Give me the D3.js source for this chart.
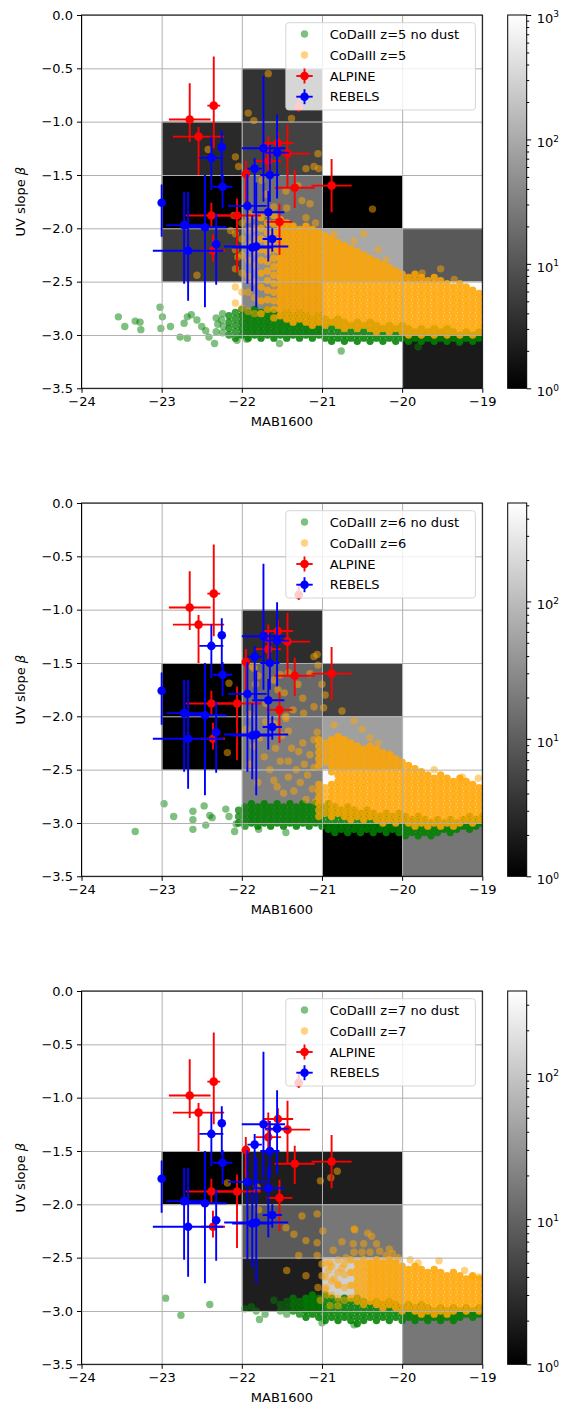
<!DOCTYPE html>
<html>
<head>
<meta charset="utf-8">
<script src="https://cdn.jsdelivr.net/npm/d3@7/dist/d3.min.js"></script>
<style>
  body { margin: 0; background: #fff; }
  svg { display: block; font-family: "DejaVu Sans", sans-serif; }
</style>
</head>
<body>
<div id="chart"></div>
<script>
// ---- values ----

var xTicks = [-24, -23, -22, -21, -20, -19];
var yTicks = [0, -0.5, -1, -1.5, -2, -2.5, -3, -3.5];
var redshifts = [5, 6, 7];
var cbarMax = [1000, 520, 373];

// 2d histogram cells: [lower x edge, lower beta edge, count]
var histZ5 = [[-23, -1.5, 3], [-23, -2.0, 1], [-23, -2.5, 5],
  [-22, -1.0, 4], [-22, -1.5, 6], [-22, -2.0, 21], [-22, -2.5, 49], [-22, -3.0, 40],
  [-21, -2.0, 1], [-21, -2.5, 95], [-21, -3.0, 800],
  [-20, -2.5, 11], [-20, -3.0, 1000], [-20, -3.5, 2]];
var histZ6 = [[-23, -2.0, 1], [-23, -2.5, 1],
  [-22, -1.5, 3], [-22, -2.0, 13], [-22, -2.5, 22], [-22, -3.0, 23],
  [-21, -2.0, 5], [-21, -2.5, 50], [-21, -3.0, 450], [-21, -3.5, 1],
  [-20, -3.0, 520], [-20, -3.5, 18]];
var histZ7 = [[-23, -2.0, 1],
  [-22, -2.0, 2], [-21, -2.0, 2],
  [-22, -2.5, 8], [-21, -2.5, 16],
  [-22, -3.0, 2], [-21, -3.0, 125],
  [-20, -3.0, 373], [-20, -3.5, 16]];

// observations: [MUV, beta, xerr, beta err up, beta err down]
var alpine = [[-22.65, -0.98, 0.26, 0.34, 0.21], [-22.35, -0.85, 0.08, 0.46, 0.40],
  [-22.54, -1.14, 0.32, 0.09, 0.36], [-21.95, -1.49, 0.05, 0.12, 0.30],
  [-21.67, -1.37, 0.16, 0.23, 0.15], [-21.55, -1.20, 0.19, 0.10, 0.12],
  [-21.43, -1.30, 0.28, 0.27, 0.32], [-21.34, -1.62, 0.25, 0.17, 0.19],
  [-20.88, -1.60, 0.25, 0.25, 0.25], [-22.38, -1.88, 0.32, 0.12, 0.12],
  [-22.06, -1.88, 0.30, 0.16, 0.53], [-21.53, -1.94, 0.16, 0.17, 0.31],
  [-22.36, -2.21, 0.15, 0.15, 0.10], [-21.29, -0.86, 0.05, 0.10, 0.05]];
var rebels = [[-23.00, -1.76, 0.02, 0.17, 0.32], [-22.25, -1.24, 0.03, 0.16, 0.30],
  [-22.38, -1.34, 0.15, 0.20, 0.30], [-22.24, -1.61, 0.12, 0.12, 0.20],
  [-21.84, -1.44, 0.09, 0.10, 0.40], [-21.73, -1.25, 0.27, 0.68, 0.50],
  [-21.56, -1.29, 0.15, 0.36, 0.43], [-21.65, -1.50, 0.12, 0.28, 0.25],
  [-21.93, -1.79, 0.24, 0.30, 0.73], [-21.67, -1.85, 0.20, 0.20, 0.46],
  [-22.72, -1.97, 0.22, 0.31, 0.55], [-22.46, -1.99, 0.27, 0.49, 0.75],
  [-22.32, -2.15, 0.05, 0.29, 0.38], [-22.67, -2.21, 0.44, 0.55, 0.47],
  [-21.87, -2.18, 0.25, 0.30, 0.41], [-21.82, -2.17, 0.40, 0.60, 0.57],
  [-21.62, -2.10, 0.12, 0.10, 0.12]];

// CoDaIII galaxies. Sparse points are single galaxies; dense columns are
// [MUV, [beta...], n] where n galaxies pile up on each marker position.

// z=5
var greenZ5Sparse = [[-23.54, -2.83], [-23.46, -2.92], [-23.33, -2.87], [-23.27, -2.88], [-23.26, -2.95],
  [-23.02, -2.74], [-22.99, -2.83], [-23.01, -2.94], [-22.89, -2.92], [-22.77, -3.02], [-22.68, -3.03],
  [-22.72, -2.89], [-22.68, -2.83], [-22.63, -2.81], [-22.56, -2.86], [-22.5, -2.92], [-22.45, -2.96],
  [-22.41, -3.02], [-22.34, -3.08], [-22.06, -3.05], [-21.94, -3.04], [-21.53, -3.08], [-20.76, -3.15],
  [-19.8, -3.11], [-19.29, -3.07], [-22.32, -2.84], [-22.3, -2.9], [-22.32, -2.97], [-22.24, -2.8],
  [-22.25, -2.86], [-22.23, -2.92], [-22.24, -2.98]];
var greenZ5Cols = [
  [-22.16, [-2.82, -2.88, -2.94, -3.0], 2], [-22.08, [-2.79, -2.85, -2.91, -2.97, -3.03], 2],
  [-22.0, [-2.76, -2.82, -2.88, -2.94, -3.0], 3], [-21.92, [-2.79, -2.85, -2.91, -2.97, -3.03], 3],
  [-21.84, [-2.76, -2.82, -2.88, -2.94, -3.0], 3], [-21.76, [-2.79, -2.85, -2.91, -2.97, -3.03], 3],
  [-21.68, [-2.76, -2.82, -2.88, -2.94, -3.0], 3], [-21.6, [-2.79, -2.85, -2.91, -2.97, -3.03], 3],
  [-21.52, [-2.82, -2.88, -2.94, -3.0], 3], [-21.44, [-2.79, -2.85, -2.91, -2.97, -3.03], 3],
  [-21.36, [-2.82, -2.88, -2.94, -3.0], 3], [-21.28, [-2.79, -2.85, -2.91, -2.97, -3.03], 3],
  [-21.2, [-2.82, -2.88, -2.94, -3.0], 3], [-21.12, [-2.85, -2.91, -2.97, -3.03], 3],
  [-21.04, [-2.82, -2.88, -2.94, -3.0], 3], [-20.96, [-2.85, -2.91, -2.97, -3.03], 3],
  [-20.88, [-2.88, -2.94, -3.0, -3.06], 3], [-20.8, [-2.85, -2.91, -2.97, -3.03], 3],
  [-20.72, [-2.88, -2.94, -3.0, -3.06], 3], [-20.64, [-2.91, -2.97, -3.03], 3],
  [-20.56, [-2.88, -2.94, -3.0, -3.06], 3], [-20.48, [-2.91, -2.97, -3.03], 3],
  [-20.4, [-2.88, -2.94, -3.0, -3.06], 3], [-20.32, [-2.91, -2.97, -3.03], 3],
  [-20.24, [-2.94, -3.0, -3.06], 3], [-20.16, [-2.91, -2.97, -3.03], 3],
  [-20.08, [-2.94, -3.0, -3.06], 3], [-20.0, [-2.91, -2.97, -3.03], 3],
  [-19.92, [-2.94, -3.0, -3.06], 3], [-19.84, [-2.97, -3.03], 3],
  [-19.76, [-2.94, -3.0, -3.06], 3], [-19.68, [-2.97, -3.03], 3],
  [-19.6, [-2.94, -3.0, -3.06], 3], [-19.52, [-2.97, -3.03], 3],
  [-19.44, [-2.94, -3.0, -3.06], 3], [-19.36, [-2.97, -3.03], 3],
  [-19.28, [-3.0, -3.06], 3], [-19.2, [-2.97, -3.03], 3],
  [-19.12, [-3.0, -3.06], 3], [-19.04, [-2.97, -3.03], 3]];
var orangeZ5Sparse = [[-22.42, -1.26], [-22.08, -1.33], [-22.04, -1.42], [-21.92, -0.92], [-21.85, -0.99],
  [-21.67, -0.55], [-21.38, -0.97], [-21.2, -1.44], [-21.1, -1.42], [-21.04, -1.44], [-21.05, -1.3],
  [-21.44, -1.81], [-21.15, -1.77], [-20.37, -1.82], [-22.56, -2.44], [-22.14, -2.02], [-22.1, -1.88],
  [-22.05, -2.27], [-21.75, -1.55], [-21.7, -1.68], [-21.45, -1.65], [-21.3, -1.6], [-21.25, -1.74],
  [-21.6, -1.8], [-21.9, -1.87], [-21.2, -1.9], [-21.08, -1.95], [-20.85, -2.05], [-20.6, -2.12],
  [-20.48, -2.05], [-20.3, -2.2], [-19.52, -2.38], [-19.75, -2.42], [-19.35, -2.48], [-20.2, -2.3]];
var orangeZ5Cols = [
  [-22.08, [-2.05, -2.2, -2.38, -2.55, -2.7], 1],
  [-22.0, [-1.95, -2.1, -2.25, -2.42, -2.6, -2.75], 1],
  [-21.92, [-1.92, -2.02, -2.15, -2.3, -2.45, -2.6, -2.78], 1],
  [-21.84, [-1.88, -2.0, -2.1, -2.22, -2.35, -2.5, -2.65, -2.8], 1],
  [-21.76, [-1.9, -2.0, -2.1, -2.2, -2.3, -2.42, -2.55, -2.68, -2.8], 2],
  [-21.68, [-1.86, -1.95, -2.04, -2.13, -2.22, -2.31, -2.4, -2.49, -2.58, -2.67, -2.76], 2],
  [-21.6, [-1.88, -1.96, -2.04, -2.12, -2.2, -2.28, -2.36, -2.44, -2.52, -2.6, -2.68, -2.76, -2.84], 2],
  [-21.52, [-1.92, -1.98, -2.04, -2.1, -2.16, -2.22, -2.28, -2.34, -2.4, -2.46, -2.52, -2.58, -2.64, -2.7, -2.76, -2.82], 3],
  [-21.44, [-1.95, -2.01, -2.07, -2.13, -2.19, -2.25, -2.31, -2.37, -2.43, -2.49, -2.55, -2.61, -2.67, -2.73, -2.79, -2.85], 3],
  [-21.36, [-1.98, -2.04, -2.1, -2.16, -2.22, -2.28, -2.34, -2.4, -2.46, -2.52, -2.58, -2.64, -2.7, -2.76, -2.82, -2.88], 3],
  [-21.28, [-2.01, -2.07, -2.13, -2.19, -2.25, -2.31, -2.37, -2.43, -2.49, -2.55, -2.61, -2.67, -2.73, -2.79, -2.85], 3],
  [-21.2, [-1.98, -2.04, -2.1, -2.16, -2.22, -2.28, -2.34, -2.4, -2.46, -2.52, -2.58, -2.64, -2.7, -2.76, -2.82, -2.88], 3],
  [-21.12, [-2.01, -2.07, -2.13, -2.19, -2.25, -2.31, -2.37, -2.43, -2.49, -2.55, -2.61, -2.67, -2.73, -2.79, -2.85, -2.91], 3],
  [-21.04, [-2.04, -2.1, -2.16, -2.22, -2.28, -2.34, -2.4, -2.46, -2.52, -2.58, -2.64, -2.7, -2.76, -2.82, -2.88], 3],
  [-20.96, [-2.07, -2.13, -2.19, -2.25, -2.31, -2.37, -2.43, -2.49, -2.55, -2.61, -2.67, -2.73, -2.79, -2.85, -2.91], 3],
  [-20.88, [-2.1, -2.16, -2.22, -2.28, -2.34, -2.4, -2.46, -2.52, -2.58, -2.64, -2.7, -2.76, -2.82, -2.88], 3],
  [-20.8, [-2.13, -2.19, -2.25, -2.31, -2.37, -2.43, -2.49, -2.55, -2.61, -2.67, -2.73, -2.79, -2.85, -2.91], 3],
  [-20.72, [-2.16, -2.22, -2.28, -2.34, -2.4, -2.46, -2.52, -2.58, -2.64, -2.7, -2.76, -2.82, -2.88, -2.94], 3],
  [-20.64, [-2.19, -2.25, -2.31, -2.37, -2.43, -2.49, -2.55, -2.61, -2.67, -2.73, -2.79, -2.85, -2.91], 3],
  [-20.56, [-2.22, -2.28, -2.34, -2.4, -2.46, -2.52, -2.58, -2.64, -2.7, -2.76, -2.82, -2.88, -2.94], 3],
  [-20.48, [-2.25, -2.31, -2.37, -2.43, -2.49, -2.55, -2.61, -2.67, -2.73, -2.79, -2.85, -2.91], 3],
  [-20.4, [-2.28, -2.34, -2.4, -2.46, -2.52, -2.58, -2.64, -2.7, -2.76, -2.82, -2.88, -2.94], 3],
  [-20.32, [-2.31, -2.37, -2.43, -2.49, -2.55, -2.61, -2.67, -2.73, -2.79, -2.85, -2.91, -2.97], 3],
  [-20.24, [-2.34, -2.4, -2.46, -2.52, -2.58, -2.64, -2.7, -2.76, -2.82, -2.88, -2.94], 3],
  [-20.16, [-2.37, -2.43, -2.49, -2.55, -2.61, -2.67, -2.73, -2.79, -2.85, -2.91, -2.97], 3],
  [-20.08, [-2.4, -2.46, -2.52, -2.58, -2.64, -2.7, -2.76, -2.82, -2.88, -2.94], 3],
  [-20.0, [-2.43, -2.49, -2.55, -2.61, -2.67, -2.73, -2.79, -2.85, -2.91, -2.97], 3],
  [-19.92, [-2.46, -2.52, -2.58, -2.64, -2.7, -2.76, -2.82, -2.88, -2.94, -3.0], 3],
  [-19.84, [-2.43, -2.49, -2.55, -2.61, -2.67, -2.73, -2.79, -2.85, -2.91, -2.97], 3],
  [-19.76, [-2.46, -2.52, -2.58, -2.64, -2.7, -2.76, -2.82, -2.88, -2.94, -3.0], 3],
  [-19.68, [-2.49, -2.55, -2.61, -2.67, -2.73, -2.79, -2.85, -2.91, -2.97], 3],
  [-19.6, [-2.46, -2.52, -2.58, -2.64, -2.7, -2.76, -2.82, -2.88, -2.94, -3.0], 3],
  [-19.52, [-2.49, -2.55, -2.61, -2.67, -2.73, -2.79, -2.85, -2.91, -2.97], 3],
  [-19.44, [-2.52, -2.58, -2.64, -2.7, -2.76, -2.82, -2.88, -2.94, -3.0], 3],
  [-19.36, [-2.55, -2.61, -2.67, -2.73, -2.79, -2.85, -2.91, -2.97], 3],
  [-19.28, [-2.52, -2.58, -2.64, -2.7, -2.76, -2.82, -2.88, -2.94, -3.0], 3],
  [-19.2, [-2.55, -2.61, -2.67, -2.73, -2.79, -2.85, -2.91, -2.97], 3],
  [-19.12, [-2.58, -2.64, -2.7, -2.76, -2.82, -2.88, -2.94, -3.0], 3],
  [-19.04, [-2.61, -2.67, -2.73, -2.79, -2.85, -2.91, -2.97], 3]];

// z=6
var greenZ6Sparse = [[-23.33, -3.08], [-22.97, -2.82], [-22.85, -2.94], [-22.61, -2.89], [-22.61, -2.97],
  [-22.61, -3.06], [-22.47, -2.84], [-22.45, -3.02], [-22.4, -2.93], [-22.37, -2.95], [-22.2, -2.87],
  [-22.16, -2.94], [-22.09, -3.08], [-22.07, -3.01], [-21.79, -3.06], [-21.45, -3.09]];
var greenZ6Cols = [
  [-22.04, [-2.88, -2.94, -3.0], 2], [-21.96, [-2.85, -2.91, -2.97, -3.03], 2],
  [-21.88, [-2.82, -2.88, -2.94, -3.0], 3], [-21.8, [-2.85, -2.91, -2.97, -3.03], 3],
  [-21.72, [-2.82, -2.88, -2.94, -3.0], 3], [-21.64, [-2.85, -2.91, -2.97, -3.03], 3],
  [-21.56, [-2.82, -2.88, -2.94, -3.0], 3], [-21.48, [-2.85, -2.91, -2.97, -3.03], 3],
  [-21.4, [-2.82, -2.88, -2.94, -3.0], 3], [-21.32, [-2.85, -2.91, -2.97, -3.03], 3],
  [-21.24, [-2.82, -2.88, -2.94, -3.0], 3], [-21.16, [-2.85, -2.91, -2.97, -3.03], 3],
  [-21.08, [-2.82, -2.88, -2.94, -3.0], 3], [-21.0, [-2.85, -2.91, -2.97, -3.03], 3],
  [-20.92, [-2.82, -2.88, -2.94, -3.0, -3.06], 3], [-20.84, [-2.85, -2.91, -2.97, -3.03, -3.09], 3],
  [-20.76, [-2.88, -2.94, -3.0, -3.06], 3], [-20.68, [-2.85, -2.91, -2.97, -3.03, -3.09], 3],
  [-20.6, [-2.88, -2.94, -3.0, -3.06], 3], [-20.52, [-2.91, -2.97, -3.03, -3.09], 3],
  [-20.44, [-2.88, -2.94, -3.0, -3.06], 3], [-20.36, [-2.91, -2.97, -3.03, -3.09], 3],
  [-20.28, [-2.94, -3.0, -3.06], 3], [-20.2, [-2.91, -2.97, -3.03, -3.09], 3],
  [-20.12, [-2.94, -3.0, -3.06], 3], [-20.04, [-2.91, -2.97, -3.03, -3.09], 3],
  [-19.96, [-2.94, -3.0, -3.06, -3.12], 3], [-19.88, [-2.97, -3.03, -3.09], 3],
  [-19.8, [-2.94, -3.0, -3.06, -3.12], 3], [-19.72, [-2.97, -3.03, -3.09], 3],
  [-19.64, [-3.0, -3.06, -3.12], 3], [-19.56, [-2.97, -3.03, -3.09], 3],
  [-19.48, [-3.0, -3.06], 3], [-19.4, [-2.97, -3.03, -3.09], 3],
  [-19.32, [-3.0, -3.06], 3], [-19.24, [-2.97, -3.03], 3],
  [-19.16, [-2.94, -3.0, -3.06], 3], [-19.08, [-2.97, -3.03], 3],
  [-19.0, [-2.94, -3.0], 3]];
var orangeZ6Sparse = [[-21.06, -1.42], [-21.0, -1.7], [-20.96, -1.8], [-21.24, -1.83], [-20.98, -1.92],
  [-20.75, -1.95], [-20.6, -2.04], [-20.85, -2.08], [-20.5, -2.12], [-20.4, -2.2], [-21.87, -1.53],
  [-22.16, -1.69], [-22.18, -2.34], [-21.8, -1.62], [-21.55, -1.75], [-21.47, -1.78], [-21.3, -1.7],
  [-21.15, -1.6], [-20.3, -2.25], [-20.15, -2.35], [-19.6, -2.5], [-19.25, -2.57], [-19.05, -2.58],
  [-21.7, -1.88], [-21.9, -1.98], [-21.85, -1.55], [-21.83, -1.7], [-21.6, -1.66], [-21.52, -1.61],
  [-21.42, -1.59], [-21.1, -1.44], [-21.05, -1.52],
  [-21.95, -2.12], [-21.9, -2.45], [-21.85, -2.28], [-21.8, -2.62], [-21.78, -2.2], [-21.72, -2.38],
  [-21.7, -2.05], [-21.65, -2.5], [-21.6, -2.07], [-21.6, -2.6], [-21.58, -2.3], [-21.56, -2.66],
  [-21.52, -2.42], [-21.5, -2.18], [-21.48, -2.72], [-21.45, -2.02], [-21.42, -2.14], [-21.42, -2.42],
  [-21.42, -2.57], [-21.38, -2.3], [-21.35, -2.7], [-21.32, -2.5], [-21.29, -2.33], [-21.27, -2.62],
  [-21.24, -2.25], [-21.22, -2.45], [-21.2, -2.78], [-21.18, -2.55], [-21.15, -2.36], [-21.12, -2.68],
  [-21.1, -2.22], [-21.1, -2.48], [-21.08, -2.8], [-21.06, -2.15], [-21.36, -1.94], [-21.23, -1.97],
  [-21.1, -1.91], [-21.45, -2.0]];
var orangeZ6Cols = [
  [-21.04, [-2.22, -2.28, -2.34, -2.4, -2.46, -2.64, -2.7, -2.76, -2.82, -2.88, -2.94], 2],
  [-20.96, [-2.25, -2.31, -2.37, -2.43, -2.67, -2.73, -2.79, -2.85, -2.91], 2],
  [-20.88, [-2.22, -2.28, -2.34, -2.4, -2.46, -2.52, -2.64, -2.7, -2.76, -2.82, -2.88, -2.94], 3],
  [-20.8, [-2.19, -2.25, -2.31, -2.37, -2.43, -2.49, -2.55, -2.61, -2.67, -2.73, -2.79, -2.85, -2.91], 3],
  [-20.72, [-2.22, -2.28, -2.34, -2.4, -2.46, -2.52, -2.58, -2.64, -2.7, -2.76, -2.82, -2.88, -2.94], 3],
  [-20.64, [-2.25, -2.31, -2.37, -2.43, -2.49, -2.55, -2.61, -2.67, -2.73, -2.79, -2.85, -2.91, -2.97], 3],
  [-20.56, [-2.28, -2.34, -2.4, -2.46, -2.52, -2.58, -2.64, -2.7, -2.76, -2.82, -2.88, -2.94], 3],
  [-20.48, [-2.31, -2.37, -2.43, -2.49, -2.55, -2.61, -2.67, -2.73, -2.79, -2.85, -2.91, -2.97], 3],
  [-20.4, [-2.28, -2.34, -2.4, -2.46, -2.52, -2.58, -2.64, -2.7, -2.76, -2.82, -2.88, -2.94], 3],
  [-20.32, [-2.31, -2.37, -2.43, -2.49, -2.55, -2.61, -2.67, -2.73, -2.79, -2.85, -2.91, -2.97], 3],
  [-20.24, [-2.34, -2.4, -2.46, -2.52, -2.58, -2.64, -2.7, -2.76, -2.82, -2.88, -2.94, -3.0], 3],
  [-20.16, [-2.37, -2.43, -2.49, -2.55, -2.61, -2.67, -2.73, -2.79, -2.85, -2.91, -2.97], 3],
  [-20.08, [-2.4, -2.46, -2.52, -2.58, -2.64, -2.7, -2.76, -2.82, -2.88, -2.94, -3.0], 3],
  [-20.0, [-2.43, -2.49, -2.55, -2.61, -2.67, -2.73, -2.79, -2.85, -2.91, -2.97], 3],
  [-19.92, [-2.46, -2.52, -2.58, -2.64, -2.7, -2.76, -2.82, -2.88, -2.94, -3.0], 3],
  [-19.84, [-2.49, -2.55, -2.61, -2.67, -2.73, -2.79, -2.85, -2.91, -2.97, -3.03], 3],
  [-19.76, [-2.52, -2.58, -2.64, -2.7, -2.76, -2.82, -2.88, -2.94, -3.0], 3],
  [-19.68, [-2.55, -2.61, -2.67, -2.73, -2.79, -2.85, -2.91, -2.97, -3.03], 3],
  [-19.6, [-2.58, -2.64, -2.7, -2.76, -2.82, -2.88, -2.94, -3.0], 3],
  [-19.52, [-2.55, -2.61, -2.67, -2.73, -2.79, -2.85, -2.91, -2.97, -3.03], 3],
  [-19.44, [-2.58, -2.64, -2.7, -2.76, -2.82, -2.88, -2.94, -3.0], 3],
  [-19.36, [-2.61, -2.67, -2.73, -2.79, -2.85, -2.91, -2.97, -3.03], 3],
  [-19.28, [-2.58, -2.64, -2.7, -2.76, -2.82, -2.88, -2.94, -3.0], 3],
  [-19.2, [-2.61, -2.67, -2.73, -2.79, -2.85, -2.91, -2.97], 3],
  [-19.12, [-2.64, -2.7, -2.76, -2.82, -2.88, -2.94, -3.0], 3],
  [-19.04, [-2.67, -2.73, -2.79, -2.85, -2.91, -2.97], 3]];

// z=7
var greenZ7Sparse = [[-22.95, -2.88], [-22.76, -3.04], [-22.4, -2.94], [-21.96, -2.98], [-21.78, -3.08],
  [-21.71, -3.03], [-21.6, -2.9], [-21.0, -3.11], [-20.6, -3.13], [-21.88, -2.96], [-21.82, -3.0]];
var greenZ7Cols = [
  [-21.52, [-2.94, -3.0], 1], [-21.44, [-2.91, -2.97, -3.03], 1],
  [-21.36, [-2.88, -2.94, -3.0], 2], [-21.28, [-2.91, -2.97, -3.03], 2],
  [-21.2, [-2.88, -2.94, -3.0, -3.06], 3], [-21.12, [-2.85, -2.91, -2.97, -3.03], 3],
  [-21.04, [-2.88, -2.94, -3.0, -3.06], 3], [-20.96, [-2.85, -2.91, -2.97, -3.03, -3.09], 3],
  [-20.88, [-2.88, -2.94, -3.0, -3.06], 3], [-20.8, [-2.91, -2.97, -3.03, -3.09], 3],
  [-20.72, [-2.88, -2.94, -3.0, -3.06], 3], [-20.64, [-2.91, -2.97, -3.03, -3.09], 3],
  [-20.56, [-2.88, -2.94, -3.0, -3.06, -3.12], 3], [-20.48, [-2.91, -2.97, -3.03, -3.09], 3],
  [-20.4, [-2.94, -3.0, -3.06], 3], [-20.32, [-2.91, -2.97, -3.03, -3.09], 3],
  [-20.24, [-2.94, -3.0, -3.06], 3], [-20.16, [-2.91, -2.97, -3.03, -3.09], 3],
  [-20.08, [-2.94, -3.0, -3.06], 3], [-20.0, [-2.97, -3.03, -3.09], 3],
  [-19.92, [-2.94, -3.0, -3.06], 3], [-19.84, [-2.97, -3.03, -3.09], 3],
  [-19.76, [-2.94, -3.0, -3.06], 3], [-19.68, [-2.97, -3.03, -3.09], 3],
  [-19.6, [-3.0, -3.06], 3], [-19.52, [-2.97, -3.03, -3.09], 3],
  [-19.44, [-3.0, -3.06], 3], [-19.36, [-2.97, -3.03, -3.09], 3],
  [-19.28, [-3.0, -3.06], 3], [-19.2, [-2.97, -3.03], 3],
  [-19.12, [-3.0, -3.06], 3], [-19.04, [-2.97, -3.03], 3]];
var orangeZ7Sparse = [[-22.18, -1.8], [-21.81, -1.84], [-21.02, -1.78], [-20.89, -1.75], [-20.81, -1.69],
  [-21.79, -2.05], [-21.45, -2.22], [-21.35, -2.28], [-21.25, -2.11], [-21.2, -2.34], [-21.06, -2.09],
  [-20.99, -2.25], [-21.06, -2.36], [-20.75, -2.35], [-20.6, -2.23], [-21.29, -2.48], [-21.44, -2.62],
  [-21.2, -2.67], [-21.06, -2.48], [-21.0, -2.67], [-20.86, -2.43], [-20.61, -2.37], [-20.59, -2.24],
  [-20.48, -2.37], [-20.43, -2.27], [-20.38, -2.3], [-20.32, -2.37], [-20.16, -2.42], [-20.12, -2.46],
  [-19.54, -2.53], [-19.22, -2.62], [-19.13, -2.68], [-19.04, -2.68], [-20.9, -2.55], [-20.75, -2.6],
  [-20.8, -2.75], [-20.95, -2.85], [-21.05, -2.78], [-21.0, -2.56], [-20.92, -2.62], [-20.85, -2.7],
  [-20.95, -2.78], [-21.02, -2.9], [-20.8, -2.95], [-20.9, -2.95], [-20.7, -2.5], [-20.6, -2.45],
  [-20.5, -2.45], [-20.4, -2.45], [-20.28, -2.44], [-20.2, -2.48], [-20.05, -2.5], [-19.9, -2.52],
  [-19.8, -2.55]];
var orangeZ7Cols = [
  [-20.96, [-2.55, -2.68, -2.8], 1], [-20.88, [-2.58, -2.72, -2.85], 1],
  [-20.8, [-2.52, -2.64, -2.76, -2.88], 1], [-20.72, [-2.56, -2.66, -2.78, -2.9], 1],
  [-20.64, [-2.52, -2.64, -2.76, -2.88], 2],
  [-20.56, [-2.55, -2.61, -2.67, -2.73, -2.79, -2.85, -2.91], 2],
  [-20.48, [-2.52, -2.58, -2.64, -2.7, -2.76, -2.82, -2.88, -2.94], 2],
  [-20.4, [-2.55, -2.61, -2.67, -2.73, -2.79, -2.85, -2.91], 3],
  [-20.32, [-2.52, -2.58, -2.64, -2.7, -2.76, -2.82, -2.88, -2.94], 3],
  [-20.24, [-2.55, -2.61, -2.67, -2.73, -2.79, -2.85, -2.91, -2.97], 3],
  [-20.16, [-2.52, -2.58, -2.64, -2.7, -2.76, -2.82, -2.88, -2.94], 3],
  [-20.08, [-2.55, -2.61, -2.67, -2.73, -2.79, -2.85, -2.91, -2.97], 3],
  [-20.0, [-2.58, -2.64, -2.7, -2.76, -2.82, -2.88, -2.94, -3.0], 3],
  [-19.92, [-2.61, -2.67, -2.73, -2.79, -2.85, -2.91, -2.97], 3],
  [-19.84, [-2.58, -2.64, -2.7, -2.76, -2.82, -2.88, -2.94, -3.0], 3],
  [-19.76, [-2.61, -2.67, -2.73, -2.79, -2.85, -2.91, -2.97, -3.03], 3],
  [-19.68, [-2.64, -2.7, -2.76, -2.82, -2.88, -2.94, -3.0], 3],
  [-19.6, [-2.61, -2.67, -2.73, -2.79, -2.85, -2.91, -2.97, -3.03], 3],
  [-19.52, [-2.64, -2.7, -2.76, -2.82, -2.88, -2.94, -3.0], 3],
  [-19.44, [-2.67, -2.73, -2.79, -2.85, -2.91, -2.97, -3.03], 3],
  [-19.36, [-2.64, -2.7, -2.76, -2.82, -2.88, -2.94, -3.0], 3],
  [-19.28, [-2.67, -2.73, -2.79, -2.85, -2.91, -2.97], 3],
  [-19.2, [-2.7, -2.76, -2.82, -2.88, -2.94, -3.0], 3],
  [-19.12, [-2.67, -2.73, -2.79, -2.85, -2.91, -2.97], 3],
  [-19.04, [-2.7, -2.76, -2.82, -2.88, -2.94, -3.0], 3]];

// ---- layout ----

var width = 565, height = 1405;
var left = 81.5, right = 482.3, plotH = 373.3;
var tops = [15, 503, 991];
var cbarX = 507.7, cbarW = 19;
var fontSize = 13;
var binW = 1, binH = 0.5;

// every point carries n, the number of galaxies stacked on that marker
function points(sparse, cols) {
  var pts = sparse.map(function(d) { return [d[0], d[1], 1]; });
  cols.forEach(function(c) {
    c[1].forEach(function(v) { pts.push([c[0], v, c[2]]); });
  });
  return pts;
}

var panels = [
  { hist: histZ5, green: points(greenZ5Sparse, greenZ5Cols), orange: points(orangeZ5Sparse, orangeZ5Cols) },
  { hist: histZ6, green: points(greenZ6Sparse, greenZ6Cols), orange: points(orangeZ6Sparse, orangeZ6Cols) },
  { hist: histZ7, green: points(greenZ7Sparse, greenZ7Cols), orange: points(orangeZ7Sparse, orangeZ7Cols) }
];

var svg = d3.select('#chart')
  .append('svg')
  .attr('width', width)
  .attr('height', height);

var defs = svg.append('defs');
var grad = defs.append('linearGradient')
  .attr('id', 'grayGrad')
  .attr('x1', 0).attr('y1', 1).attr('x2', 0).attr('y2', 0);
grad.append('stop').attr('offset', '0%').attr('stop-color', '#000');
grad.append('stop').attr('offset', '100%').attr('stop-color', '#fff');

// n markers at alpha 0.5 stacked on each other
function stackedAlpha(d) { return 1 - Math.pow(0.5, d[2]); }

function styleAxis(g) {
  g.attr('font-size', fontSize).attr('font-family', '"DejaVu Sans", sans-serif');
  g.select('.domain').remove();
  g.selectAll('.tick line').attr('stroke', '#000').attr('stroke-width', 1);
  g.selectAll('.tick text').attr('fill', '#000');
}

function drawErrorbars(g, data, color, x, y) {
  var eg = g.append('g');
  eg.selectAll('line.xe').data(data).enter().append('line')
    .attr('x1', function(d) { return x(d[0] - d[2]); })
    .attr('x2', function(d) { return x(d[0] + d[2]); })
    .attr('y1', function(d) { return y(d[1]); })
    .attr('y2', function(d) { return y(d[1]); })
    .attr('stroke', color).attr('stroke-width', 1.9);
  eg.selectAll('line.ye').data(data).enter().append('line')
    .attr('x1', function(d) { return x(d[0]); })
    .attr('x2', function(d) { return x(d[0]); })
    .attr('y1', function(d) { return y(d[1] + d[3]); })
    .attr('y2', function(d) { return y(d[1] - d[4]); })
    .attr('stroke', color).attr('stroke-width', 1.9);
  eg.selectAll('circle').data(data).enter().append('circle')
    .attr('cx', function(d) { return x(d[0]); })
    .attr('cy', function(d) { return y(d[1]); })
    .attr('r', 4.3)
    .attr('fill', color);
}

panels.forEach(function(p, i) {
  var T = tops[i];
  var vmax = cbarMax[i];
  var z = redshifts[i];

  var x = d3.scaleLinear().domain([-24, -19]).range([left, right]);
  var y = d3.scaleLinear().domain([-3.5, 0]).range([T + plotH, T]);
  var shade = d3.scaleLog().domain([1, vmax]).range([0, 255]).clamp(true);

  var g = svg.append('g');

  defs.append('clipPath').attr('id', 'clip' + i)
    .append('rect')
    .attr('x', left).attr('y', T)
    .attr('width', right - left).attr('height', plotH);

  // histogram cells
  g.append('g').selectAll('rect')
    .data(p.hist)
    .enter()
    .append('rect')
    .attr('x', function(d) { return x(d[0]); })
    .attr('y', function(d) { return y(d[1] + binH); })
    .attr('width', function(d) { return x(d[0] + binW) - x(d[0]); })
    .attr('height', function(d) { return y(d[1]) - y(d[1] + binH); })
    .attr('fill', function(d) { var v = Math.round(shade(d[2])); return d3.rgb(v, v, v); });

  // scatter: no dust first, then with dust on top
  var sg = g.append('g').attr('clip-path', 'url(#clip' + i + ')');
  sg.append('g').selectAll('circle')
    .data(p.green)
    .enter()
    .append('circle')
    .attr('cx', function(d) { return x(d[0]); })
    .attr('cy', function(d) { return y(d[1]); })
    .attr('r', 3.7)
    .attr('fill', 'green')
    .attr('fill-opacity', stackedAlpha);
  sg.append('g').selectAll('circle')
    .data(p.orange)
    .enter()
    .append('circle')
    .attr('cx', function(d) { return x(d[0]); })
    .attr('cy', function(d) { return y(d[1]); })
    .attr('r', 3.7)
    .attr('fill', 'orange')
    .attr('fill-opacity', stackedAlpha);

  // grid
  var gx = g.append('g')
    .attr('transform', 'translate(0,' + (T + plotH) + ')')
    .call(d3.axisBottom(x).tickValues(xTicks).tickSize(-plotH).tickFormat(''));
  gx.select('.domain').remove();
  gx.selectAll('.tick line').attr('stroke', '#b0b0b0').attr('stroke-width', 1);
  var gy = g.append('g')
    .attr('transform', 'translate(' + left + ',0)')
    .call(d3.axisLeft(y).tickValues(yTicks).tickSize(-(right - left)).tickFormat(''));
  gy.select('.domain').remove();
  gy.selectAll('.tick line').attr('stroke', '#b0b0b0').attr('stroke-width', 1);

  // observations
  var og = g.append('g').attr('clip-path', 'url(#clip' + i + ')');
  drawErrorbars(og, alpine, 'red', x, y);
  drawErrorbars(og, rebels, 'blue', x, y);

  // axes
  var ax = g.append('g')
    .attr('transform', 'translate(0,' + (T + plotH) + ')')
    .call(d3.axisBottom(x).tickValues(xTicks).tickSize(4.5).tickPadding(4).tickFormat(d3.format('d')));
  styleAxis(ax);
  var ay = g.append('g')
    .attr('transform', 'translate(' + left + ',0)')
    .call(d3.axisLeft(y).tickValues(yTicks).tickSize(4.5).tickPadding(4).tickFormat(d3.format('.1f')));
  styleAxis(ay);

  g.append('rect')
    .attr('x', left).attr('y', T)
    .attr('width', right - left).attr('height', plotH)
    .attr('fill', 'none').attr('stroke', '#000').attr('stroke-width', 1);

  g.append('text')
    .attr('x', (left + right) / 2)
    .attr('y', T + plotH + 38)
    .attr('text-anchor', 'middle')
    .attr('font-size', fontSize)
    .text('MAB1600');

  var yl = g.append('text')
    .attr('transform', 'translate(20,' + (T + plotH / 2) + ') rotate(-90)')
    .attr('text-anchor', 'middle')
    .attr('dy', '0.35em')
    .attr('font-size', fontSize);
  yl.append('tspan').text('UV slope ');
  yl.append('tspan').attr('font-style', 'italic').text('\u03b2');

  // legend
  var lg = g.append('g').attr('transform', 'translate(285.8,' + (T + 7.7) + ')');
  lg.append('rect')
    .attr('width', 189.6).attr('height', 87.3)
    .attr('rx', 3)
    .attr('fill', '#fff').attr('fill-opacity', 0.8)
    .attr('stroke', '#cccccc').attr('stroke-opacity', 0.8);
  var labels = ['CoDaIII z=' + z + ' no dust', 'CoDaIII z=' + z, 'ALPINE', 'REBELS'];
  var rowY = [11.3, 32.3, 53.3, 74];
  lg.append('circle').attr('cx', 18.7).attr('cy', rowY[0]).attr('r', 3.7)
    .attr('fill', 'green').attr('fill-opacity', 0.5);
  lg.append('circle').attr('cx', 18.7).attr('cy', rowY[1]).attr('r', 3.7)
    .attr('fill', 'orange').attr('fill-opacity', 0.5);
  [['red', rowY[2]], ['blue', rowY[3]]].forEach(function(h) {
    lg.append('line').attr('x1', 10.5).attr('x2', 26.9).attr('y1', h[1]).attr('y2', h[1])
      .attr('stroke', h[0]).attr('stroke-width', 1.9);
    lg.append('line').attr('x1', 18.7).attr('x2', 18.7).attr('y1', h[1] - 7.5).attr('y2', h[1] + 7.5)
      .attr('stroke', h[0]).attr('stroke-width', 1.9);
    lg.append('circle').attr('cx', 18.7).attr('cy', h[1]).attr('r', 4.3).attr('fill', h[0]);
  });
  lg.selectAll('text.lab').data(labels).enter().append('text')
    .attr('x', 43.9)
    .attr('y', function(d, k) { return rowY[k]; })
    .attr('dy', '0.35em')
    .attr('font-size', fontSize)
    .text(function(d) { return d; });

  // colorbar
  g.append('rect')
    .attr('x', cbarX).attr('y', T)
    .attr('width', cbarW).attr('height', plotH)
    .attr('fill', 'url(#grayGrad)');
  var cScale = d3.scaleLog().domain([1, vmax]).range([T + plotH, T]);
  var majors = [1, 10, 100, 1000].filter(function(v) { return v <= vmax; });
  var minors = [];
  [1, 10, 100].forEach(function(dec) {
    for (var m = 2; m <= 9; m++) { if (m * dec <= vmax) minors.push(m * dec); }
  });
  var cMinor = g.append('g')
    .attr('transform', 'translate(' + (cbarX + cbarW) + ',0)')
    .call(d3.axisRight(cScale).tickValues(minors).tickSize(2.5).tickFormat(''));
  styleAxis(cMinor);
  var cMajor = g.append('g')
    .attr('transform', 'translate(' + (cbarX + cbarW) + ',0)')
    .call(d3.axisRight(cScale).tickValues(majors).tickSize(4.5).tickPadding(5.5).tickFormat(''));
  styleAxis(cMajor);
  cMajor.selectAll('.tick text').each(function(d) {
    var t = d3.select(this).attr('dy', '0.55em');
    t.append('tspan').text('10');
    t.append('tspan').attr('dy', '-0.6em').attr('font-size', 9).text(Math.round(Math.log10(d)));
  });
  g.append('rect')
    .attr('x', cbarX).attr('y', T)
    .attr('width', cbarW).attr('height', plotH)
    .attr('fill', 'none').attr('stroke', '#000').attr('stroke-width', 1);
});
</script>
</body>
</html>
